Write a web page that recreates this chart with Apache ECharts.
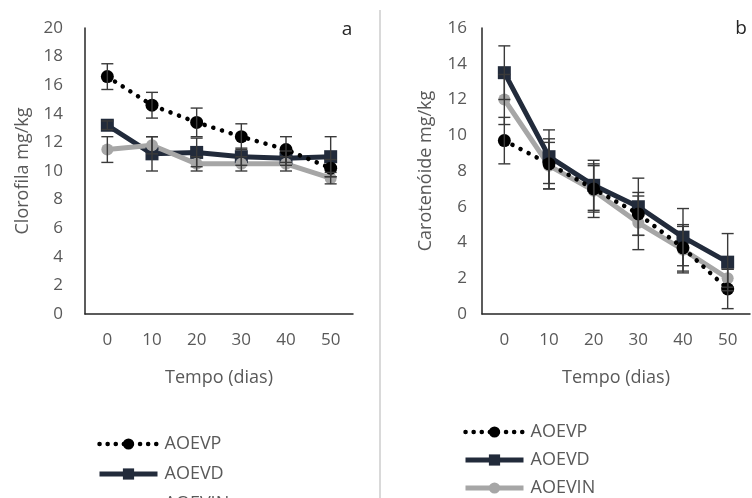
<!DOCTYPE html>
<html>
<head>
<meta charset="utf-8">
<script src="https://cdn.jsdelivr.net/npm/echarts@6/dist/echarts.min.js"></script>
<style>
  html, body { margin: 0; padding: 0; background: #fff; }
  #chart { width: 752px; height: 498px; }
</style>
</head>
<body>
<div id="chart"></div>
<script>
// dias de armazenamento
var days = ['0', '10', '20', '30', '40', '50']
var names = ['AOEVP', 'AOEVD', 'AOEVIN']

// (a) clorofila
var chlAOEVP = [16.6, 14.6, 13.4, 12.4, 11.5, 10.2]
var chlAOEVPerr = [0.9, 0.9, 1.0, 0.9, 0.9, 0.6]
var chlAOEVD = [13.2, 11.2, 11.3, 11.0, 10.9, 11.0]
var chlAOEVDerr = [0.3, 1.2, 1.0, 0.6, 0.5, 1.4]
var chlAOEVIN = [11.5, 11.8, 10.5, 10.5, 10.5, 9.5]
var chlAOEVINerr = [0.9, 0.6, 0.5, 0.5, 0.5, 0.4]

// (b) carotenoide
var carAOEVP = [9.7, 8.4, 7.0, 5.6, 3.7, 1.4]
var carAOEVPerr = [1.3, 1.4, 1.3, 1.2, 1.3, 1.1]
var carAOEVD = [13.5, 8.8, 7.2, 6.0, 4.3, 2.9]
var carAOEVDerr = [1.5, 1.5, 1.4, 1.6, 1.6, 1.6]
var carAOEVIN = [12.0, 8.3, 6.9, 5.1, 3.6, 2.0]
var carAOEVINerr = [1.4, 1.3, 1.5, 1.5, 1.3, 0.5]

var FONT = 'Open Sans'
var TXT = '#595959'

function errData(vals, errs) {
  return vals.map(function (v, i) { return [i, v - errs[i], v + errs[i]] })
}

// barras de erro (linha vertical + tampas)
function errRender(params, api) {
  var x = api.value(0)
  var top = api.coord([x, api.value(2)])
  var bot = api.coord([x, api.value(1)])
  var w = 6
  var st = { stroke: '#3a3a3a', lineWidth: 1.4 }
  return {
    type: 'group',
    children: [
      { type: 'line', shape: { x1: top[0], y1: top[1], x2: bot[0], y2: bot[1] }, style: st },
      { type: 'line', shape: { x1: top[0] - w, y1: top[1], x2: top[0] + w, y2: top[1] }, style: st },
      { type: 'line', shape: { x1: bot[0] - w, y1: bot[1], x2: bot[0] + w, y2: bot[1] }, style: st }
    ]
  }
}

function lineSeries(idx, name, data) {
  var base = { name: name, type: 'line', data: data, xAxisIndex: idx, yAxisIndex: idx, z: 3 }
  if (name === 'AOEVP') {
    base.symbol = 'circle'
    base.symbolSize = 13
    base.itemStyle = { color: '#000' }
    base.lineStyle = { color: '#000', width: 4.5, type: [0.1, 9], cap: 'round' }
    base.z = 4
  } else if (name === 'AOEVD') {
    base.symbol = 'rect'
    base.symbolSize = 13
    base.itemStyle = { color: '#222b3b' }
    base.lineStyle = { color: '#222b3b', width: 5 }
  } else {
    base.symbol = 'circle'
    base.symbolSize = 12
    base.itemStyle = { color: '#a6a6a6' }
    base.lineStyle = { color: '#a6a6a6', width: 5 }
  }
  return base
}

function errSeries(idx, key, vals, errs) {
  return {
    name: key, type: 'custom', xAxisIndex: idx, yAxisIndex: idx,
    renderItem: errRender, encode: { x: 0, y: [1, 2] },
    data: errData(vals, errs), z: 5, silent: true
  }
}

function xAx(idx) {
  return {
    type: 'category', gridIndex: idx, data: days, boundaryGap: true,
    name: 'Tempo (dias)', nameLocation: 'middle', nameGap: 55,
    nameTextStyle: { color: TXT, fontSize: 18, fontFamily: FONT },
    axisLine: { lineStyle: { color: '#262626', width: 1.5 } },
    axisTick: { show: false },
    axisLabel: { color: TXT, fontSize: 17, fontFamily: FONT, margin: 18 }
  }
}

function yAx(idx, max, name, gap, margin) {
  return {
    type: 'value', gridIndex: idx, min: 0, max: max, interval: 2,
    name: name, nameLocation: 'middle', nameGap: gap,
    nameTextStyle: { color: TXT, fontSize: 18, fontFamily: FONT },
    axisLine: { show: true, lineStyle: { color: '#262626', width: 1.5 } },
    axisTick: { show: false },
    splitLine: { show: false },
    axisLabel: { color: TXT, fontSize: 17, fontFamily: FONT, margin: margin }
  }
}

function legendAt(left, top, gap) {
  return {
    data: [
      { name: 'AOEVP', lineStyle: { width: 4.5, type: [0.1, 8], cap: 'round' } },
      { name: 'AOEVD', lineStyle: { width: 5 } },
      { name: 'AOEVIN', lineStyle: { width: 5 } }
    ],
    orient: 'vertical', left: left, top: top, height: 90,
    itemWidth: 58, itemHeight: 14, itemGap: gap, selectedMode: false,
    textStyle: { color: TXT, fontSize: 18, lineHeight: 16, fontFamily: FONT, padding: [0, 0, 0, 2] }
  }
}

var myChart = echarts.init(document.getElementById('chart'), null, { renderer: 'canvas' })
myChart.setOption({
  backgroundColor: '#fff',
  animation: false,
  grid: [
    { left: 85, top: 28, width: 268, height: 286 },
    { left: 482, top: 28, width: 268, height: 286 }
  ],
  xAxis: [xAx(0), xAx(1)],
  yAxis: [yAx(0, 20, 'Clorofila mg/kg', 53, 22), yAx(1, 16, 'Carotenóide mg/kg', 47, 15)],
  legend: [legendAt(92, 430, 12), legendAt(458, 418, 10)],
  graphic: [
    { type: 'line', shape: { x1: 380, y1: 10, x2: 380, y2: 498 }, style: { stroke: '#d9d9d9', lineWidth: 2 } },
    { type: 'text', x: 347, y: 30, style: { text: 'a', fontSize: 19, fontFamily: FONT, fill: '#262626', align: 'center', verticalAlign: 'middle' } },
    { type: 'text', x: 741, y: 29, style: { text: 'b', fontSize: 19, fontFamily: FONT, fill: '#262626', align: 'center', verticalAlign: 'middle' } }
  ],
  series: [
    lineSeries(0, 'AOEVP', chlAOEVP),
    lineSeries(0, 'AOEVD', chlAOEVD),
    lineSeries(0, 'AOEVIN', chlAOEVIN),
    errSeries(0, 'errP_a', chlAOEVP, chlAOEVPerr),
    errSeries(0, 'errD_a', chlAOEVD, chlAOEVDerr),
    errSeries(0, 'errIN_a', chlAOEVIN, chlAOEVINerr),
    lineSeries(1, 'AOEVP', carAOEVP),
    lineSeries(1, 'AOEVD', carAOEVD),
    lineSeries(1, 'AOEVIN', carAOEVIN),
    errSeries(1, 'errP_b', carAOEVP, carAOEVPerr),
    errSeries(1, 'errD_b', carAOEVD, carAOEVDerr),
    errSeries(1, 'errIN_b', carAOEVIN, carAOEVINerr)
  ]
})
</script>
</body>
</html>
